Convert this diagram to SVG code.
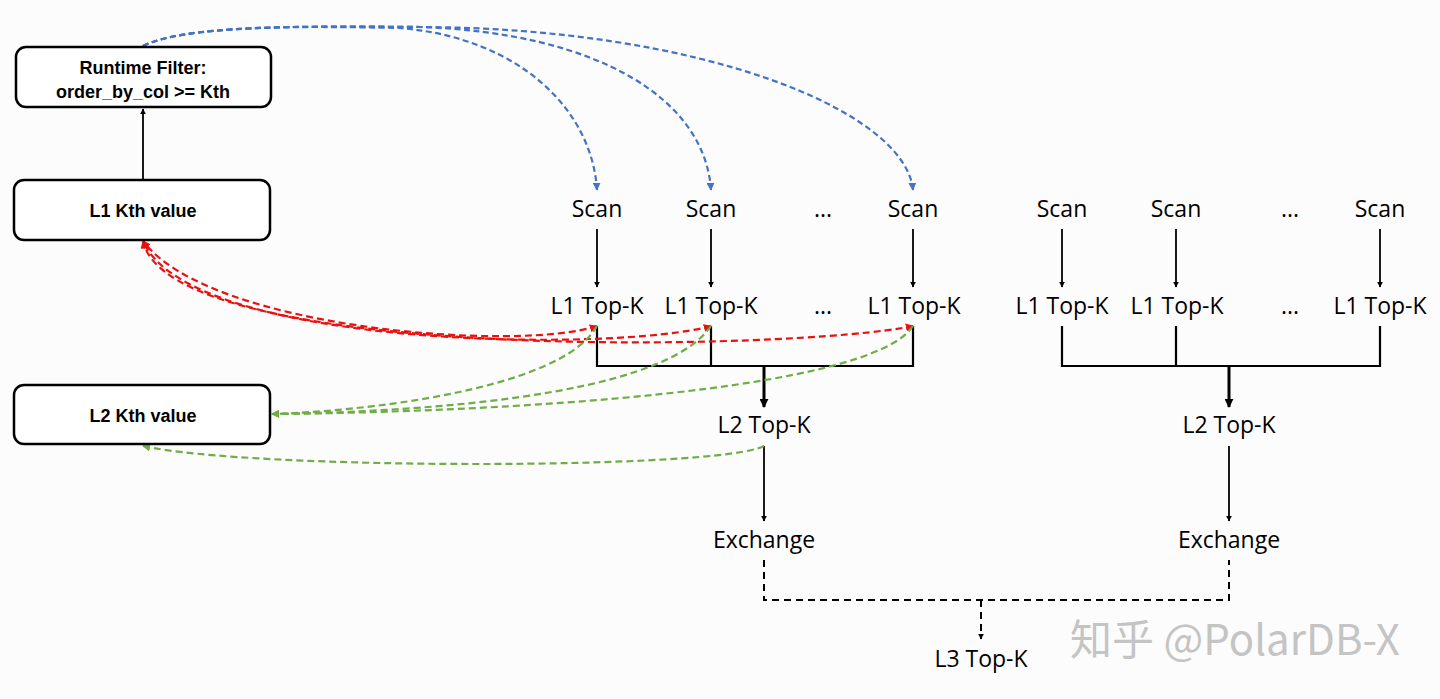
<svg xmlns="http://www.w3.org/2000/svg" width="1440" height="699" viewBox="0 0 1440 699">
<defs>
<style>
.box{fill:#fff;stroke:#000;stroke-width:2.5}
.bt{font-family:"Liberation Sans",Arial,sans-serif;font-weight:bold;font-size:18px;text-anchor:middle;fill:#000}
.lt{font-family:"Open Sans","Noto Sans",sans-serif;font-size:23px;text-anchor:middle;fill:#000}
.ln{fill:none;stroke:#000;stroke-width:2.2}
.ar{fill:none;stroke:#000;stroke-width:1.8}
.thick{fill:none;stroke:#000;stroke-width:3}
.dsh{fill:none;stroke:#000;stroke-width:2;stroke-dasharray:7 5}
.blue{fill:none;stroke:#4472C4;stroke-width:2.2;stroke-dasharray:6 3.5}
.red{fill:none;stroke:#E8110F;stroke-width:2.2;stroke-dasharray:7 4}
.green{fill:none;stroke:#70AD47;stroke-width:2.2;stroke-dasharray:7 4}
</style>
<marker id="ak" viewBox="0 0 10 10" refX="9" refY="5" markerWidth="6" markerHeight="6" orient="auto-start-reverse" markerUnits="userSpaceOnUse"><path d="M0,0 L10,5 L0,10 z" fill="#000"/></marker>
<marker id="akb" viewBox="0 0 10 10" refX="9" refY="5" markerWidth="9" markerHeight="9" orient="auto-start-reverse" markerUnits="userSpaceOnUse"><path d="M0,0 L10,5 L0,10 z" fill="#000"/></marker>
<marker id="ab" viewBox="0 0 10 10" refX="9" refY="5" markerWidth="8" markerHeight="8" orient="auto-start-reverse" markerUnits="userSpaceOnUse"><path d="M0,0 L10,5 L0,10 z" fill="#4472C4"/></marker>
<marker id="arr" viewBox="0 0 10 10" refX="9" refY="5" markerWidth="8" markerHeight="8" orient="auto-start-reverse" markerUnits="userSpaceOnUse"><path d="M0,0 L10,5 L0,10 z" fill="#E8110F"/></marker>
<marker id="ag" viewBox="0 0 10 10" refX="9" refY="5" markerWidth="8" markerHeight="8" orient="auto-start-reverse" markerUnits="userSpaceOnUse"><path d="M0,0 L10,5 L0,10 z" fill="#70AD47"/></marker>
</defs>
<rect width="1440" height="699" fill="#fcfcfc"/>

<g id="watermark">
<text x="1235" y="655" font-family="'Noto Sans CJK SC','Noto Sans',sans-serif" font-size="42" fill="#c4c4c4" text-anchor="middle">知乎 @PolarDB-X</text>
</g>

<g id="connectors">
<path class="ar" d="M143,179 L143,109" marker-end="url(#ak)"/>
<path class="ar" d="M597,229 L597,287" marker-end="url(#ak)"/>
<path class="ar" d="M711,229 L711,287" marker-end="url(#ak)"/>
<path class="ar" d="M913,229 L913,287" marker-end="url(#ak)"/>
<path class="ar" d="M1062,229 L1062,287" marker-end="url(#ak)"/>
<path class="ar" d="M1176,229 L1176,287" marker-end="url(#ak)"/>
<path class="ar" d="M1380,229 L1380,287" marker-end="url(#ak)"/>
<path class="ln" d="M597,326 V366 H913 V326 M711,326 V366"/>
<path class="ln" d="M1062,326 V366 H1380 V326 M1176,326 V366"/>
<path class="thick" d="M764,366 V407" marker-end="url(#akb)"/>
<path class="thick" d="M1229,366 V407" marker-end="url(#akb)"/>
<path class="ar" d="M764,446 V521" marker-end="url(#ak)"/>
<path class="ar" d="M1229,446 V521" marker-end="url(#ak)"/>
<path class="dsh" d="M764,560 V600 H1229 V560"/>
<path class="dsh" d="M981,600 V639" marker-end="url(#ak)"/>
<path class="blue" d="M143,46 C185,25 300,26 400,28 C520,38 592,110 597,190" marker-end="url(#ab)"/>
<path class="blue" d="M143,46 C185,25 300,26 420,27 C600,33 705,100 711,190" marker-end="url(#ab)"/>
<path class="blue" d="M143,46 C185,25 300,26 420,27 C700,28 905,110 913,190" marker-end="url(#ab)"/>
<path class="red" d="M597,326 C520,352 210,330 143,241" marker-start="url(#arr)" marker-end="url(#arr)"/>
<path class="red" d="M711,326 C620,352 190,350 143,241" marker-start="url(#arr)" marker-end="url(#arr)"/>
<path class="red" d="M913,326 C800,350 170,365 143,241" marker-start="url(#arr)" marker-end="url(#arr)"/>
<path class="green" d="M597,326 C560,392 350,412 272,414" marker-end="url(#ag)"/>
<path class="green" d="M711,326 C660,400 400,412 272,414" marker-end="url(#ag)"/>
<path class="green" d="M913,326 C870,392 500,412 272,414" marker-end="url(#ag)"/>
<path class="green" d="M764,446 C720,470 250,470 143,446" marker-end="url(#ag)"/>
</g>

<g id="runtime-filter">
<rect class="box" x="16" y="47" width="255" height="60" rx="10"/>
<text class="bt" x="143" y="74">Runtime Filter:</text>
<text class="bt" x="143" y="98">order_by_col &gt;= Kth</text>
</g>
<g id="l1-kth">
<rect class="box" x="14" y="180" width="256" height="60" rx="10"/>
<text class="bt" x="143" y="217">L1 Kth value</text>
</g>
<g id="l2-kth">
<rect class="box" x="14" y="385" width="256" height="59" rx="10"/>
<text class="bt" x="143" y="422">L2 Kth value</text>
</g>

<g id="scans">
<text class="lt" x="597" y="217">Scan</text>
<text class="lt" x="711" y="217">Scan</text>
<text class="lt" x="823" y="217">...</text>
<text class="lt" x="913" y="217">Scan</text>
<text class="lt" x="1062" y="217">Scan</text>
<text class="lt" x="1176" y="217">Scan</text>
<text class="lt" x="1290" y="217">...</text>
<text class="lt" x="1380" y="217">Scan</text>
</g>
<g id="l1-topk">
<text class="lt" x="597" y="314">L1 Top-K</text>
<text class="lt" x="711" y="314">L1 Top-K</text>
<text class="lt" x="823" y="314">...</text>
<text class="lt" x="914" y="314">L1 Top-K</text>
<text class="lt" x="1062" y="314">L1 Top-K</text>
<text class="lt" x="1177" y="314">L1 Top-K</text>
<text class="lt" x="1290" y="314">...</text>
<text class="lt" x="1380" y="314">L1 Top-K</text>
</g>
<g id="l2-topk">
<text class="lt" x="764" y="433">L2 Top-K</text>
<text class="lt" x="1229" y="433">L2 Top-K</text>
</g>
<g id="exchange">
<text class="lt" x="764" y="548">Exchange</text>
<text class="lt" x="1229" y="548">Exchange</text>
</g>
<g id="l3-topk">
<text class="lt" x="981" y="667">L3 Top-K</text>
</g>
</svg>
